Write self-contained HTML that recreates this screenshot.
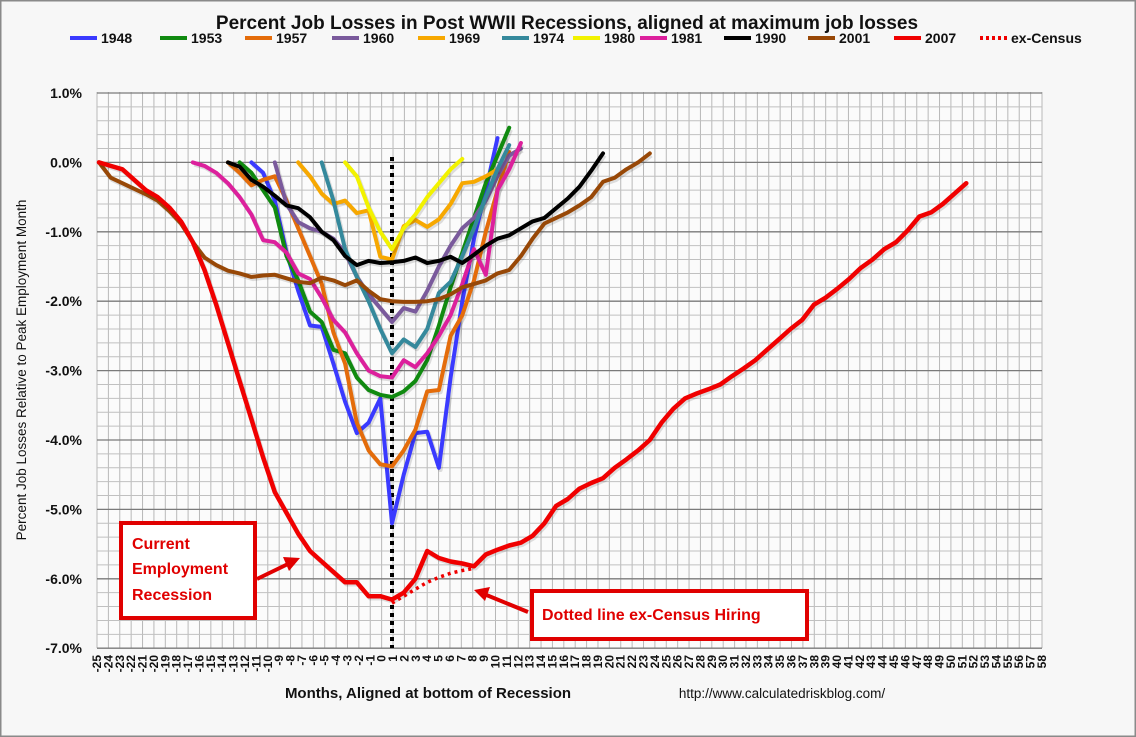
<!DOCTYPE html>
<html><head><meta charset="utf-8">
<style>
html,body{margin:0;padding:0;background:#fff;}
#wrap{width:1136px;height:737px;position:relative;overflow:hidden;}
svg text{font-family:"Liberation Sans",Arial,sans-serif;}
</style></head>
<body>
<div id="wrap">
<svg id="chart" width="1136" height="737" viewBox="0 0 1136 737" xmlns="http://www.w3.org/2000/svg">
<rect x="0.5" y="0.5" width="1135" height="736" fill="#f7f7f7" stroke="#8a8a8a" stroke-width="2"/>
<text x="567" y="29" text-anchor="middle" font-size="19" font-weight="bold" fill="#111">Percent Job Losses in Post WWII Recessions, aligned at maximum job losses</text>
<g id="grid"></g>
<g id="yaxis"></g>
<g id="xaxis"></g>
<g id="series"></g>
<g id="legend"></g>
<text transform="translate(26,370) rotate(-90)" text-anchor="middle" font-size="13.5" fill="#111">Percent Job Losses Relative to Peak Employment Month</text>
<text x="428" y="698" text-anchor="middle" font-size="15" font-weight="bold" fill="#111">Months, Aligned at bottom of Recession</text>
<text x="782" y="698" text-anchor="middle" font-size="13.5" fill="#111">http://www.calculatedriskblog.com/</text>
<g id="annot">
  <rect x="121" y="523" width="134" height="95" fill="#fff" stroke="#e00000" stroke-width="4"/>
  <text x="132" y="549" font-size="16" font-weight="bold" fill="#e00000">Current</text>
  <text x="132" y="574" font-size="16" font-weight="bold" fill="#e00000">Employment</text>
  <text x="132" y="600" font-size="16" font-weight="bold" fill="#e00000">Recession</text>
  <line x1="257" y1="579" x2="290" y2="563" stroke="#e00000" stroke-width="4"/>
  <polygon points="300,558 283,557 289,571" fill="#e00000"/>
  <rect x="532" y="591" width="275" height="48" fill="#fff" stroke="#e00000" stroke-width="4"/>
  <text x="542" y="620" font-size="16" font-weight="bold" fill="#e00000">Dotted  line ex-Census  Hiring</text>
  <line x1="528" y1="612" x2="484" y2="594" stroke="#e00000" stroke-width="4"/>
  <polygon points="474,590 490,587 485,601" fill="#e00000"/>
</g>
</svg>
</div>
<script>
const yTicks = [1,0,-1,-2,-3,-4,-5,-6,-7];
const yTickLabels = ["1.0%","0.0%","-1.0%","-2.0%","-3.0%","-4.0%","-5.0%","-6.0%","-7.0%"];
const xCategories = [];
for (let m=-25;m<=58;m++) xCategories.push(m);
const seriesNames = ["1948","1953","1957","1960","1969","1974","1980","1981","1990","2001","2007"];
const seriesStart = [-12,-13,-14,-10,-8,-6,-4,-17,-14,-25,-25];
const v1948 = [0,-0.15,-0.55,-1.3,-1.85,-2.35,-2.37,-2.9,-3.45,-3.9,-3.75,-3.4,-5.2,-4.5,-3.9,-3.88,-4.4,-3.1,-2.0,-1.1,-0.4,0.35];
const v1953 = [0,-0.15,-0.4,-0.65,-1.35,-1.7,-2.15,-2.3,-2.7,-2.75,-3.1,-3.28,-3.35,-3.38,-3.3,-3.15,-2.85,-2.35,-1.8,-1.3,-0.8,-0.3,0.1,0.5];
const v1957 = [0,-0.15,-0.33,-0.25,-0.2,-0.55,-0.95,-1.35,-1.75,-2.45,-2.9,-3.75,-4.15,-4.35,-4.38,-4.15,-3.85,-3.3,-3.28,-2.5,-2.2,-1.7,-1.0,-0.4,0.15];
const v1960 = [0,-0.6,-0.86,-0.95,-1.0,-1.1,-1.3,-1.65,-1.9,-2.1,-2.3,-2.1,-2.15,-1.85,-1.5,-1.2,-0.95,-0.8,-0.55,-0.2,0.1,0.2];
const v1969 = [0,-0.2,-0.45,-0.6,-0.55,-0.73,-0.69,-1.36,-1.4,-0.92,-0.83,-0.93,-0.82,-0.6,-0.3,-0.28,-0.2,-0.1];
const v1974 = [0,-0.55,-1.25,-1.65,-2.0,-2.4,-2.75,-2.55,-2.66,-2.4,-1.88,-1.72,-1.35,-0.95,-0.5,-0.1,0.25];
const v1980 = [0,-0.2,-0.65,-1.0,-1.25,-0.95,-0.75,-0.5,-0.3,-0.1,0.05];
const v1981 = [0,-0.05,-0.15,-0.3,-0.5,-0.75,-1.12,-1.15,-1.3,-1.6,-1.68,-1.95,-2.27,-2.45,-2.75,-3.0,-3.08,-3.1,-2.85,-2.95,-2.75,-2.5,-2.2,-1.75,-1.25,-1.62,-0.4,-0.1,0.28];
const v1990 = [0,-0.06,-0.25,-0.35,-0.48,-0.62,-0.66,-0.79,-1.0,-1.12,-1.35,-1.48,-1.42,-1.45,-1.44,-1.42,-1.37,-1.45,-1.42,-1.36,-1.45,-1.33,-1.2,-1.1,-1.05,-0.95,-0.85,-0.8,-0.66,-0.52,-0.35,-0.12,0.13];
const v2001 = [0,-0.22,-0.3,-0.38,-0.46,-0.55,-0.7,-0.88,-1.15,-1.37,-1.48,-1.56,-1.6,-1.65,-1.63,-1.62,-1.67,-1.72,-1.74,-1.66,-1.7,-1.77,-1.7,-1.85,-1.97,-2.0,-2.01,-2.01,-2.0,-1.97,-1.9,-1.8,-1.75,-1.7,-1.6,-1.55,-1.35,-1.1,-0.88,-0.8,-0.72,-0.62,-0.5,-0.28,-0.22,-0.1,0,0.13];
const v2007 = [0,-0.05,-0.1,-0.25,-0.4,-0.5,-0.65,-0.85,-1.15,-1.55,-2.05,-2.6,-3.15,-3.7,-4.25,-4.75,-5.05,-5.35,-5.6,-5.75,-5.9,-6.05,-6.05,-6.25,-6.25,-6.3,-6.2,-6.0,-5.6,-5.7,-5.75,-5.78,-5.82,-5.65,-5.58,-5.52,-5.48,-5.38,-5.2,-4.95,-4.85,-4.7,-4.62,-4.55,-4.4,-4.28,-4.15,-4.0,-3.75,-3.55,-3.4,-3.33,-3.27,-3.2,-3.08,-2.97,-2.85,-2.7,-2.55,-2.4,-2.27,-2.05,-1.95,-1.82,-1.68,-1.52,-1.4,-1.25,-1.15,-0.98,-0.78,-0.72,-0.6,-0.45,-0.3];
const exCensusStart = 0;
const vExCensus = [-6.35,-6.25,-6.15,-6.05,-5.98,-5.92,-5.88,-5.85];
const seriesColors = ["#3a3aff","#108a10","#e46c0a","#7a5a9c","#f7a800","#35899c","#f2f200","#dc209c","#000000","#984807","#f00000"];

const NS="http://www.w3.org/2000/svg";
const PL=97, PR=1042, PT=92, PB=648;
function yScale(v){ return 162.4 - v*69.4; }
function xData(m){ return 392 + m*11.72; }
function xGrid(i){ return PL + i*(PR-PL)/83; }
function mk(tag,attrs,parent){const e=document.createElementNS(NS,tag);for(const k in attrs)e.setAttribute(k,attrs[k]);parent.appendChild(e);return e;}

const grid=document.getElementById('grid');
const bg=mk('rect',{x:PL,y:PT,width:PR-PL,height:PB-PT,fill:'#fbfbfb'},grid);


for(let i=0;i<=83;i++){
  const gl=mk('line',{x1:xGrid(i),x2:xGrid(i),y1:PT,y2:PB,stroke:'#b8b8b8','stroke-width':1},grid);
  
  
}
for(let v=1;v>=-7.0001;v-=0.2){
  const major=Math.abs(v-Math.round(v))<0.01;
  const gl=mk('line',{x1:PL,x2:PR,y1:yScale(v),y2:yScale(v),stroke:major?'#7a7a7a':'#c0c0c0','stroke-width':major?1.3:1},grid);
  
  
}
const yaxis=document.getElementById('yaxis');
yTicks.forEach((t,i)=>{
  const tx=mk('text',{x:82,y:yScale(t)+5,'text-anchor':'end','font-size':14,'font-weight':'bold',fill:'#111'},yaxis);
  tx.textContent=yTickLabels[i];
  
  
});
const xaxis=document.getElementById('xaxis');
xCategories.forEach((m,i)=>{
  const x=xGrid(i)+4;
  const tx=mk('text',{transform:`translate(${x},655) rotate(-90)`,'text-anchor':'end','font-size':12,'font-weight':'bold',fill:'#111'},xaxis);
  tx.textContent=String(m);
  
  
});
const series=document.getElementById('series');
const allVals=[v1948,v1953,v1957,v1960,v1969,v1974,v1980,v1981,v1990,v2001,v2007];
const zl=mk('line',{x1:xData(0),x2:xData(0),y1:157,y2:PB,stroke:'#000','stroke-width':4,'stroke-dasharray':'4,4'},series);


allVals.forEach((vals,si)=>{
  const pts=vals.map((v,i)=>xData(seriesStart[si]+i).toFixed(1)+','+yScale(v).toFixed(1)).join(' ');
  const sh=mk('polyline',{points:pts,fill:'none',stroke:'rgba(0,0,0,0.12)','stroke-width':4.5,'stroke-linejoin':'round',transform:'translate(1.5,2)'},series);
  
  
  const pl=mk('polyline',{points:pts,fill:'none',stroke:seriesColors[si],'stroke-width':si===10?4.5:4,'stroke-linejoin':'round','stroke-linecap':'round'},series);
  
  
});
const exPts=vExCensus.map((v,i)=>xData(exCensusStart+i).toFixed(1)+','+yScale(v).toFixed(1)).join(' ');
const ex=mk('polyline',{points:exPts,fill:'none',stroke:'#f00000','stroke-width':3.5,'stroke-dasharray':'3,4'},series);



const legend=document.getElementById('legend');
const legX=[70,160,245,332,418,502,573,640,724,808,894,980];
const legNames=seriesNames.concat(['ex-Census']);
legNames.forEach((n,i)=>{
  const x=legX[i];
  const ln=mk('line',{x1:x,x2:x+27,y1:38,y2:38,stroke:i<11?seriesColors[i]:'#f00000','stroke-width':4},legend);
  if(i===11) ln.setAttribute('stroke-dasharray','3,3');
  
  
  const tx=mk('text',{x:x+31,y:43,'font-size':14,'font-weight':'bold',fill:'#111'},legend);
  tx.textContent=n;
  
  
});
</script>
</body></html>
